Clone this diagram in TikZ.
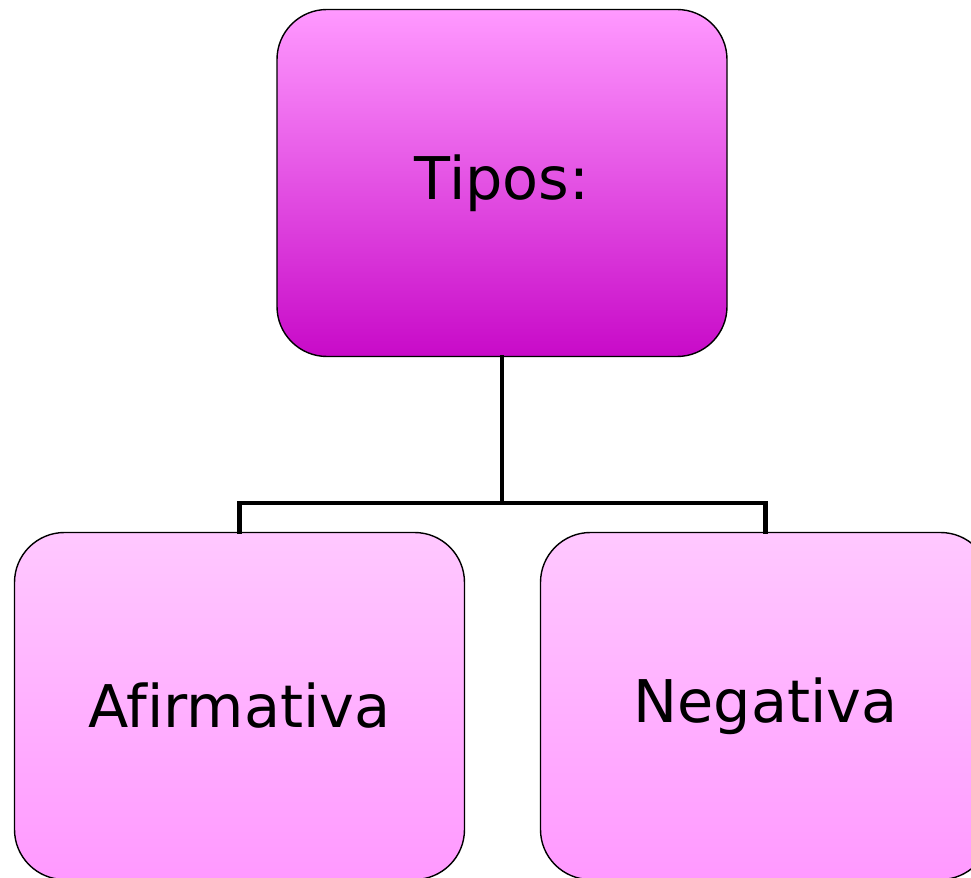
\documentclass[tikz,border=0pt]{standalone}
\usepackage{fontspec}
\setmainfont[Ligatures=NoCommon]{DejaVu Sans}
\definecolor{rosaclaro}{HTML}{FFC8FF}
\definecolor{rosa}{HTML}{FF99FF}
\definecolor{magenta}{HTML}{C80AC8}
\begin{document}
\begin{tikzpicture}[caja/.style={draw=black,line width=0.8pt,rounded corners=1cm,shading=axis,
			minimum width=9cm,minimum height=6.94cm,font=\fontsize{33.5}{38}\selectfont},
		rama/.style={line width=2.3pt,line cap=rect}]
				\useasboundingbox (0,0) rectangle (19.42,-17.56);
				\node[caja,top color=rosa,bottom color=magenta] (tipos) at (10.04,-3.66) {Tipos:};
				\node[caja,top color=rosaclaro,bottom color=rosa] (afirm) at (4.79,-14.12) {Afirmativa};
				\node[caja,top color=rosaclaro,bottom color=rosa] (negat) at (15.31,-14.12) {Negativa};
				\coordinate (union) at (10.04,-10.06);
				\draw[rama] (tipos.south) -- (union);
				\draw[rama] (union) -| (afirm.north);
				\draw[rama] (union) -| (negat.north);
		\end{tikzpicture}
\end{document}
